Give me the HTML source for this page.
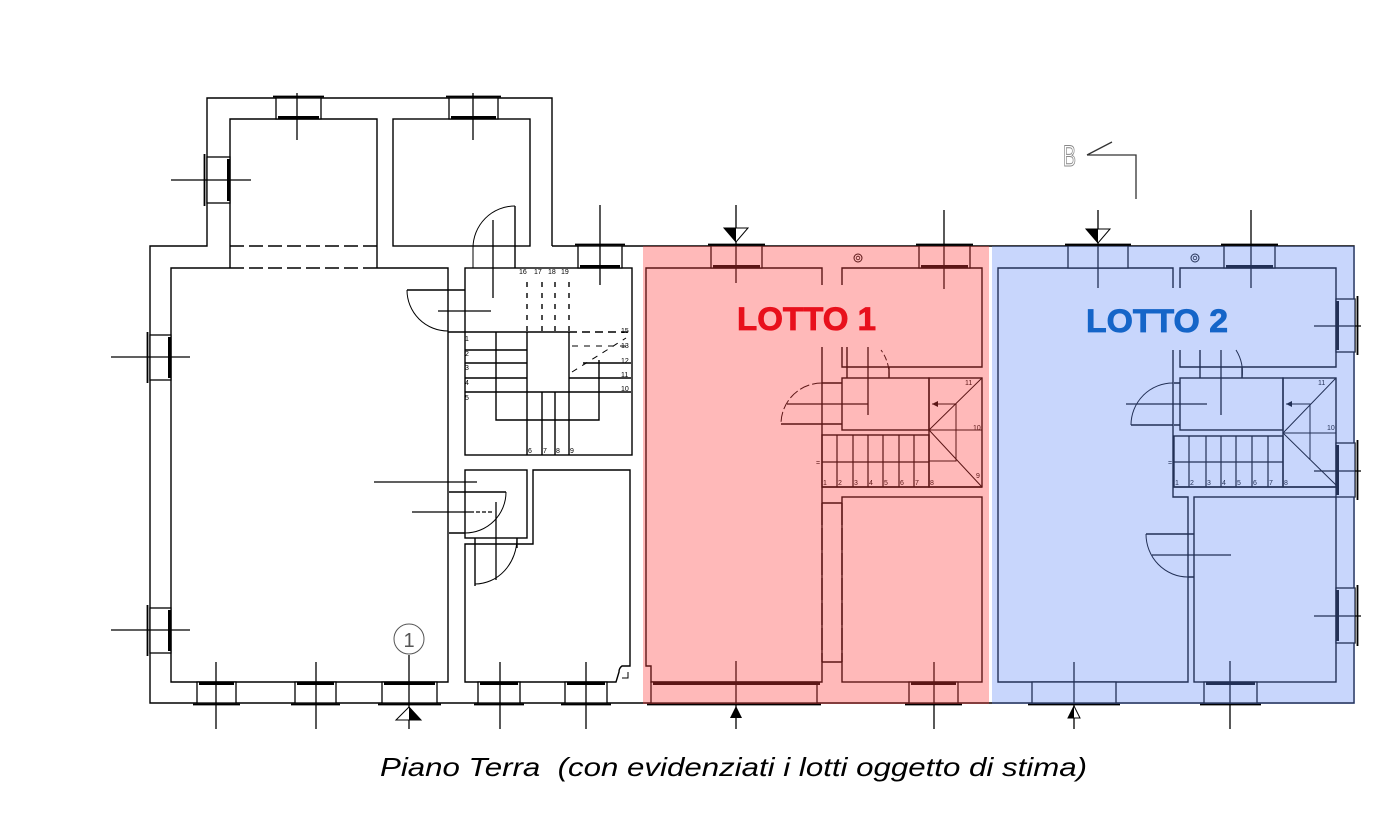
<!DOCTYPE html>
<html><head><meta charset="utf-8"><style>
html,body{margin:0;padding:0;background:#fff;}
svg{display:block;}
</style></head><body>
<svg width="1400" height="830" viewBox="0 0 1400 830" xmlns="http://www.w3.org/2000/svg">
<rect width="1400" height="830" fill="#fff"/>
<g fill="none" stroke="#000" stroke-width="1.4">
<path d="M552,246 V98 H207 V246 H150 V703 H1354 V246 H552"/>
<path d="M230,268 V119 H377 V268"/>
<path d="M230,246 H377 M230,268 H377" stroke-dasharray="14 5"/>
<rect x="393" y="119" width="137" height="127"/>
<path d="M230,268 H171 V682 H448 V268 H377"/>
<rect x="465" y="268" width="167" height="187"/>
<rect x="465" y="470" width="62" height="68"/>
<path d="M533,470 H630 V666 H622 Q619,668 619,672 L616,682 H465 V544 H533 Z"/>
<path d="M622,678 H628 V672" stroke-width="1"/>
<path d="M448,290 H465 M448,332 H465"/>
<path d="M407,290 H448" />
<path d="M407,290 A41,41 0 0 0 448,331" stroke-width="1"/>
<path d="M515,206 V268"/>
<path d="M515,206 A42,42 0 0 0 473,248 V268" stroke-width="1"/>
<path d="M449,492 H506 M449,533 H465"/>
<path d="M506,492 A41,41 0 0 1 465,533" stroke-width="1"/>
<path d="M475,538 V586 M517,538 V548"/>
<path d="M517,538 A42,46 0 0 1 475,584" stroke-width="1"/>
<path d="M527,282 V332 M542,282 V332 M555,282 V332 M569,282 V332" stroke-dasharray="5 6"/>
<path d="M465,332 H569 M569,332 V455 M527,332 V455 M527,392 H569 M542,392 V455 M555,392 V455"/>
<path d="M569,332 H628" stroke-dasharray="8 5"/>
<path d="M465,350 H527 M465,363 H527 M465,378 H527 M465,392 H527"/>
<path d="M569,378 H631 M569,392 H631 M583,363 H631"/>
<path d="M572,346 H628 M572,372 L626,338" stroke-dasharray="6 6" stroke-width="1"/>
<path d="M496,332 V420 H599 V360"/>
<path d="M822,285 V268 H646 V666 H651 V682 H822 V347"/>
<path d="M842,285 V268 H982 V367 H842 V347"/>
<path d="M847,347 V378 M889,367 V378"/>
<path d="M889,378 A42,42 0 0 0 881,350" stroke-width="1" stroke-dasharray="6 3"/>
<rect x="842" y="378" width="87" height="52"/>
<rect x="929" y="378" width="53" height="109"/>
<path d="M982,378 L929,430 L982,487 M929,430 H982 M932,404 H956 V461 H929" stroke-width="1"/>
<rect x="822" y="435" width="107" height="52"/>
<path d="M822,462 H929 M837,435 V487 M853,435 V487 M868,435 V487 M883,435 V487 M899,435 V487 M914,435 V487" stroke-width="1.2"/>
<path d="M822,487 H982"/>
<rect x="842" y="497" width="140" height="185"/>
<path d="M822,503 H842 M822,662 H842"/>
<path d="M842,503 V662" stroke-dasharray="22 3"/>
<path d="M822,383 H842 M822,424 H842 M781,424 H822"/>
<path d="M822,383 A41,41 0 0 0 781,424" stroke-width="1" stroke-dasharray="10 3"/>
<circle cx="858" cy="258" r="4" stroke-width="1"/>
<circle cx="858" cy="258" r="1.8" stroke-width="0.8"/>
<path d="M1173,288 V268 H998 V682 H1188 V497 H1173 V350"/>
<path d="M1180,288 V268 H1336 V367 H1180 V350"/>
<path d="M1200,350 V378 M1242,367 V378"/>
<path d="M1242,378 A42,42 0 0 0 1236,350" stroke-width="1"/>
<rect x="1180" y="378" width="103" height="52"/>
<rect x="1283" y="378" width="53" height="109"/>
<path d="M1336,378 L1283,433 L1336,485 M1283,433 H1336 M1286,404 H1310 V460" stroke-width="1"/>
<rect x="1174" y="436" width="109" height="51"/>
<path d="M1174,462 H1283 M1189,436 V487 M1206,436 V487 M1221,436 V487 M1236,436 V487 M1252,436 V487 M1268,436 V487" stroke-width="1.2"/>
<path d="M1173,487 H1336"/>
<rect x="1194" y="497" width="142" height="185"/>
<path d="M1188,534 H1194 M1188,577 H1194 M1146,534 H1188"/>
<path d="M1146,534 A42,43 0 0 0 1188,577" stroke-width="1"/>
<path d="M1174,383 H1180 M1174,425 H1180 M1131,425 H1173"/>
<path d="M1173,383 A42,42 0 0 0 1131,425" stroke-width="1"/>
<circle cx="1195" cy="258" r="4" stroke-width="1"/>
<circle cx="1195" cy="258" r="1.8" stroke-width="0.8"/>
</g>
<path d="M822,503 V662" stroke="#000" stroke-width="1.4" fill="none" stroke-dasharray="22 3"/>
<path d="M932,404 l6,-3 v6 z M1286,404 l6,-3 v6 z" fill="#000"/>
<g stroke="#000" stroke-width="1.3" fill="#fff">
<rect x="197" y="682" width="39" height="21"/><rect x="295" y="682" width="41" height="21"/><rect x="382" y="682" width="55" height="21"/><rect x="478" y="682" width="42" height="21"/><rect x="565" y="682" width="42" height="21"/><rect x="651" y="682" width="166" height="21"/><rect x="909" y="682" width="49" height="21"/><rect x="1032" y="682" width="84" height="21"/><rect x="1204" y="682" width="53" height="21"/>
<rect x="276" y="98" width="45" height="21"/><rect x="449" y="98" width="49" height="21"/>
<rect x="578" y="246" width="44" height="22"/><rect x="711" y="246" width="51" height="22"/><rect x="919" y="246" width="51" height="22"/><rect x="1068" y="246" width="60" height="22"/><rect x="1224" y="246" width="51" height="22"/>
<rect x="150" y="335" width="21" height="45"/><rect x="150" y="608" width="21" height="45"/><rect x="207" y="157" width="23" height="46"/>
<rect x="1336" y="299" width="19" height="53"/><rect x="1336" y="443" width="19" height="54"/><rect x="1336" y="588" width="19" height="55"/>
</g>
<g stroke="#000" fill="none" stroke-width="1.8">
<path d="M193,704.5 H240 M291,704.5 H340 M378,704.5 H441 M474,704.5 H524 M561,704.5 H611 M647,704.5 H821 M905,704.5 H962 M1028,704.5 H1120 M1200,704.5 H1261"/>
<path d="M273,96.5 H324 M446,96.5 H501 M575,244.5 H625 M708,244.5 H765 M916,244.5 H973 M1065,244.5 H1131 M1221,244.5 H1278"/>
<path d="M147.5,332 V383 M147.5,605 V656 M204.5,154 V206 M1357.5,296 V355 M1357.5,440 V500 M1357.5,585 V646"/>
</g>
<g stroke="#000" fill="none" stroke-width="3">
<path d="M199,683.5 H234 M297,683.5 H334 M384,683.5 H435 M480,683.5 H518 M567,683.5 H605 M653,683.5 H820 M911,683.5 H956 M1206,683.5 H1255"/>
<path d="M278,117.5 H319 M451,117.5 H496 M580,266.5 H620 M713,266.5 H760 M921,266.5 H968 M1226,266.5 H1273"/>
<path d="M169.5,337 V378 M169.5,610 V651 M228.5,159 V201 M1337.5,301 V350 M1337.5,445 V495 M1337.5,590 V641"/>
</g>
<g stroke="#000" stroke-width="1.3" fill="none">
<path d="M297,93 V140 M473,93 V140 M600,205 V285 M736,205 V283 M944,210 V289 M1098,210 V288 M1251,210 V288 M216,662 V729 M316,662 V729 M409,655 V729 M500,662 V729 M586,662 V729 M736,661 V729 M934,662 V729 M1074,662 V729 M1230,661 V729 M493,220 V298 M868,347 V415 M1221,350 V415 M496,502 V580"/>
<path d="M171,180 H251 M111,357 H190 M111,630 H190 M438,311 H491 M374,482 H477 M412,512 H470 M787,404 H868 M1126,404 H1207 M1152,555 H1231 M1314,326 H1361 M1314,471 H1361 M1314,616 H1361"/>
<path d="M470,512 H492" stroke-dasharray="4 2"/>
</g>
<circle cx="409" cy="639" r="15" fill="none" stroke="#555" stroke-width="1"/>
<text x="409" y="647" font-family="Liberation Sans, sans-serif" font-size="20" fill="#555" text-anchor="middle">1</text>
<path d="M396,720 L421,720 L409,707 Z" fill="#fff" stroke="#000" stroke-width="1"/>
<path d="M409,707 L421,720 L409,720 Z" fill="#000"/>
<path d="M724,228 L748,228 L736,242 Z" fill="#fff" stroke="#000" stroke-width="1"/>
<path d="M724,228 L736,228 L736,242 Z" fill="#000"/>
<path d="M1086,229 L1110,229 L1098,243 Z" fill="#fff" stroke="#000" stroke-width="1"/>
<path d="M1086,229 L1098,229 L1098,243 Z" fill="#000"/>
<path d="M730,718 L742,718 L736,706 Z" fill="#000"/>
<path d="M1068,718 L1080,718 L1074,706 Z" fill="#fff" stroke="#000" stroke-width="1"/>
<path d="M1068,718 L1074,718 L1074,706 Z" fill="#000"/>
<text x="1063" y="166" font-family="Liberation Sans, sans-serif" font-size="30" fill="none" stroke="#888" stroke-width="1" textLength="13" lengthAdjust="spacingAndGlyphs">B</text>
<path d="M1087,155 L1112,142 M1087,155 H1136 V199" stroke="#333" stroke-width="1.3" fill="none"/>
<g font-family="Liberation Sans, sans-serif" font-size="7" fill="#000">
<text x="519" y="274">16</text><text x="534" y="274">17</text><text x="548" y="274">18</text><text x="561" y="274">19</text>
<text x="465" y="341">1</text><text x="465" y="356">2</text><text x="465" y="370">3</text><text x="465" y="385">4</text><text x="465" y="400">5</text>
<text x="621" y="333">15</text><text x="621" y="348">13</text><text x="621" y="363">12</text><text x="621" y="377">11</text><text x="621" y="391">10</text>
<text x="528" y="453">6</text><text x="543" y="453">7</text><text x="556" y="453">8</text><text x="570" y="453">9</text>
<text x="823" y="485">1</text><text x="838" y="485">2</text><text x="854" y="485">3</text><text x="869" y="485">4</text><text x="884" y="485">5</text><text x="900" y="485">6</text><text x="915" y="485">7</text><text x="930" y="485">8</text>
<text x="965" y="385">11</text><text x="973" y="430">10</text><text x="976" y="478">9</text>
<text x="1175" y="485">1</text><text x="1190" y="485">2</text><text x="1207" y="485">3</text><text x="1222" y="485">4</text><text x="1237" y="485">5</text><text x="1253" y="485">6</text><text x="1269" y="485">7</text><text x="1284" y="485">8</text>
<text x="1318" y="385">11</text><text x="1327" y="430">10</text>
<text x="816" y="465">=</text><text x="1168" y="465">=</text>
</g>
<rect x="643" y="246" width="346" height="458" fill="rgb(255,60,60)" fill-opacity="0.36"/>
<rect x="992" y="246" width="363" height="458" fill="rgb(98,138,246)" fill-opacity="0.35"/>
<text x="737" y="330" font-family="Liberation Sans, sans-serif" font-weight="bold" font-size="32" fill="#e8101c" stroke="#e8101c" stroke-width="0.8" textLength="139" lengthAdjust="spacingAndGlyphs">LOTTO 1</text>
<text x="1086" y="332" font-family="Liberation Sans, sans-serif" font-weight="bold" font-size="32" fill="#1565c8" stroke="#1565c8" stroke-width="0.8" textLength="142" lengthAdjust="spacingAndGlyphs">LOTTO 2</text>
<text x="380" y="776" font-family="Liberation Sans, sans-serif" font-style="italic" font-size="26" fill="#000" textLength="707" lengthAdjust="spacingAndGlyphs" xml:space="preserve">Piano Terra  (con evidenziati i lotti oggetto di stima)</text>
</svg>
</body></html>
